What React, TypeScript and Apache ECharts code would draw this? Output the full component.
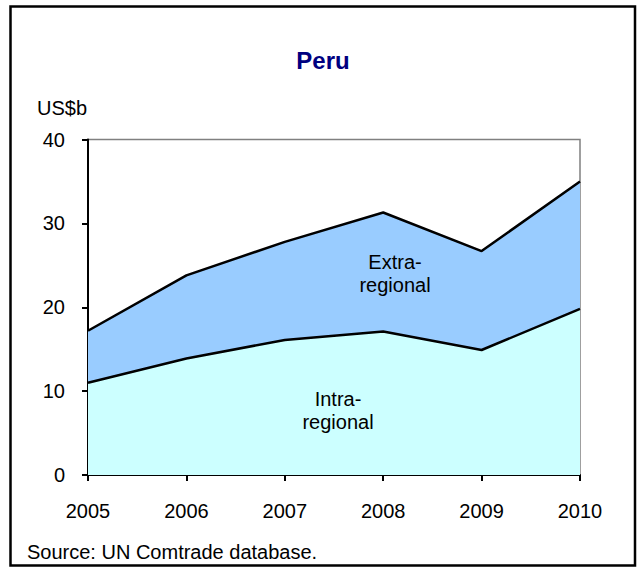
import React, { useEffect, useRef } from "react";
import * as echarts from "echarts";

const years = ["2005", "2006", "2007", "2008", "2009", "2010"];
const intraRegional = [11.0, 13.9, 16.1, 17.1, 14.9, 19.8];
const extraRegional = [6.2, 9.9, 11.7, 14.2, 11.8, 15.2];
const yTicks = { min: 0, max: 40, interval: 10 };

const FONT = "'Liberation Sans', Arial, Helvetica, sans-serif";

export default function App() {
  const ref = useRef<HTMLDivElement>(null);
  useEffect(() => {
    document.body.style.margin = "0";
    if (!ref.current) return;
    const chart = echarts.init(ref.current, null, { renderer: "svg" });
    chart.setOption({
      animation: false,
      backgroundColor: "#ffffff",
      textStyle: { fontFamily: FONT },
      grid: {
        left: 88,
        right: 60,
        top: 139.5,
        bottom: 92,
        show: true,
        borderColor: "#808080",
        borderWidth: 1.5,
        backgroundColor: "transparent",
      },
      xAxis: {
        type: "category",
        data: years,
        boundaryGap: false,
        axisLine: { lineStyle: { color: "#000", width: 2 } },
        axisTick: { show: true, length: 6, lineStyle: { color: "#000", width: 2 } },
        axisLabel: { color: "#000", fontSize: 20, fontFamily: FONT, margin: 26 },
        splitLine: { show: false },
      },
      yAxis: {
        type: "value",
        min: yTicks.min,
        max: yTicks.max,
        interval: yTicks.interval,
        axisLine: { show: true, lineStyle: { color: "#000", width: 2 } },
        axisTick: { show: true, length: 6, lineStyle: { color: "#000", width: 2 } },
        axisLabel: { color: "#000", fontSize: 20, fontFamily: FONT, margin: 23 },
        splitLine: { show: false },
      },
      series: [
        {
          name: "Intra-regional",
          type: "line",
          stack: "total",
          data: intraRegional,
          showSymbol: false,
          symbol: "none",
          lineStyle: { color: "#000", width: 2.5 },
          areaStyle: { color: "#CCFFFF", opacity: 1 },
          z: 2,
        },
        {
          name: "Extra-regional",
          type: "line",
          stack: "total",
          data: extraRegional,
          showSymbol: false,
          symbol: "none",
          lineStyle: { color: "#000", width: 2.5 },
          areaStyle: { color: "#99CCFF", opacity: 1 },
          z: 2,
        },
      ],
      graphic: [
        {
          type: "rect",
          shape: { x: 10.5, y: 6.5, width: 624.5, height: 559 },
          style: { fill: "none", stroke: "#000", lineWidth: 2.5 },
          silent: true,
        },
        {
          type: "text",
          x: 323,
          y: 60,
          style: {
            text: "Peru",
            font: `bold 24px ${FONT}`,
            fill: "#000080",
            align: "center",
            verticalAlign: "middle",
          },
        },
        {
          type: "text",
          x: 37,
          y: 108,
          style: {
            text: "US$b",
            font: `20px ${FONT}`,
            fill: "#000",
            align: "left",
            verticalAlign: "middle",
          },
        },
        {
          type: "text",
          x: 27,
          y: 552,
          style: {
            text: "Source: UN Comtrade database.",
            font: `20px ${FONT}`,
            fill: "#000",
            align: "left",
            verticalAlign: "middle",
          },
        },
        {
          type: "text",
          x: 395,
          y: 273,
          z: 100,
          style: {
            text: "Extra-\nregional",
            font: `20px ${FONT}`,
            lineHeight: 23,
            fill: "#000",
            align: "center",
            verticalAlign: "middle",
          },
        },
        {
          type: "text",
          x: 338,
          y: 410,
          z: 100,
          style: {
            text: "Intra-\nregional",
            font: `20px ${FONT}`,
            lineHeight: 23,
            fill: "#000",
            align: "center",
            verticalAlign: "middle",
          },
        },
      ],
    });
    return () => chart.dispose();
  }, []);
  return <div ref={ref} style={{ width: 640, height: 567 }} />;
}
